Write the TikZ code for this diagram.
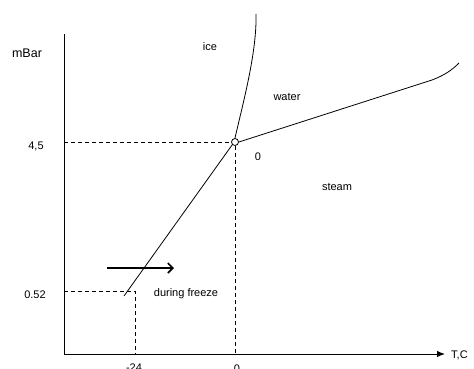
\documentclass[tikz,border=0pt]{standalone}
\usepackage{fontspec}
\setmainfont{Liberation Sans}
\usetikzlibrary{arrows.meta}
\begin{document}
\begin{tikzpicture}[x=1pt,y=-1pt,
  lbl/.style={inner sep=0pt,font=\fontsize{11}{13}\selectfont},
  dsh/.style={line width=0.8pt,dash pattern=on 4pt off 3pt},
  crv/.style={line width=0.8pt},
  axis/.style={line width=1pt}]
\useasboundingbox (0,0) rectangle (474,369);
% axes
\coordinate (O) at (64,354);
\coordinate (ytop) at (64,34);
\coordinate (xend) at (445,354);
\draw[axis] (ytop) -- (O);
\draw[axis,-{Latex[length=8pt,width=6.5pt]}] (O) -- (xend);
% triple point
\node[draw,circle,line width=0.8pt,minimum size=7pt,inner sep=0pt,fill=white] (tp) at (235,142) {};
\coordinate (y45) at (64,142);
\coordinate (x0) at (235,354);
\coordinate (pfz) at (124,296);
\coordinate (y052) at (64,291);
\coordinate (c052) at (135,291);
\coordinate (x24) at (135,354);
% dashed guides
\draw[dsh] (y45) -- (tp.west);
\draw[dsh] (tp.south) -- (x0);
\draw[dsh] (y052) -- (c052) -- (x24);
% curves
\coordinate (icetop) at (256,14);
\draw[crv] (tp.north) .. controls (243,103) and (257,52) .. (icetop);
\coordinate (wbend) at (432,80);
\coordinate (wend) at (459,63);
\draw[crv] (tp.east) -- (wbend) .. controls (445,75) and (452,70) .. (wend);
\draw[crv] (tp.south west) -- (pfz);
% freeze arrow
\coordinate (fa) at (107,268);
\coordinate (fb) at (174,268);
\draw[line width=1.6pt,-{Straight Barb[length=5pt,width=10pt]}] (fa) -- (fb);
% labels
\node[lbl,font=\fontsize{12.5}{14}\selectfont] (mbar) at (27,53) {mBar};
\node[lbl] (l45) at (36,146) {4,5};
\node[lbl] (l052) at (35,295) {0.52};
\node[lbl] (lice) at (210,47) {ice};
\node[lbl] (lwater) at (287,97) {water};
\node[lbl] (lzero) at (258,157) {0};
\node[lbl] (lsteam) at (337,187) {steam};
\node[lbl] (lfreeze) at (186,294) {during freeze};
\node[lbl] (lm24) at (134,368) {-24};
\node[lbl] (lx0) at (237,369) {0};
\node[lbl,anchor=west] (ltc) at (451,355) {T,C};
\end{tikzpicture}
\end{document}
